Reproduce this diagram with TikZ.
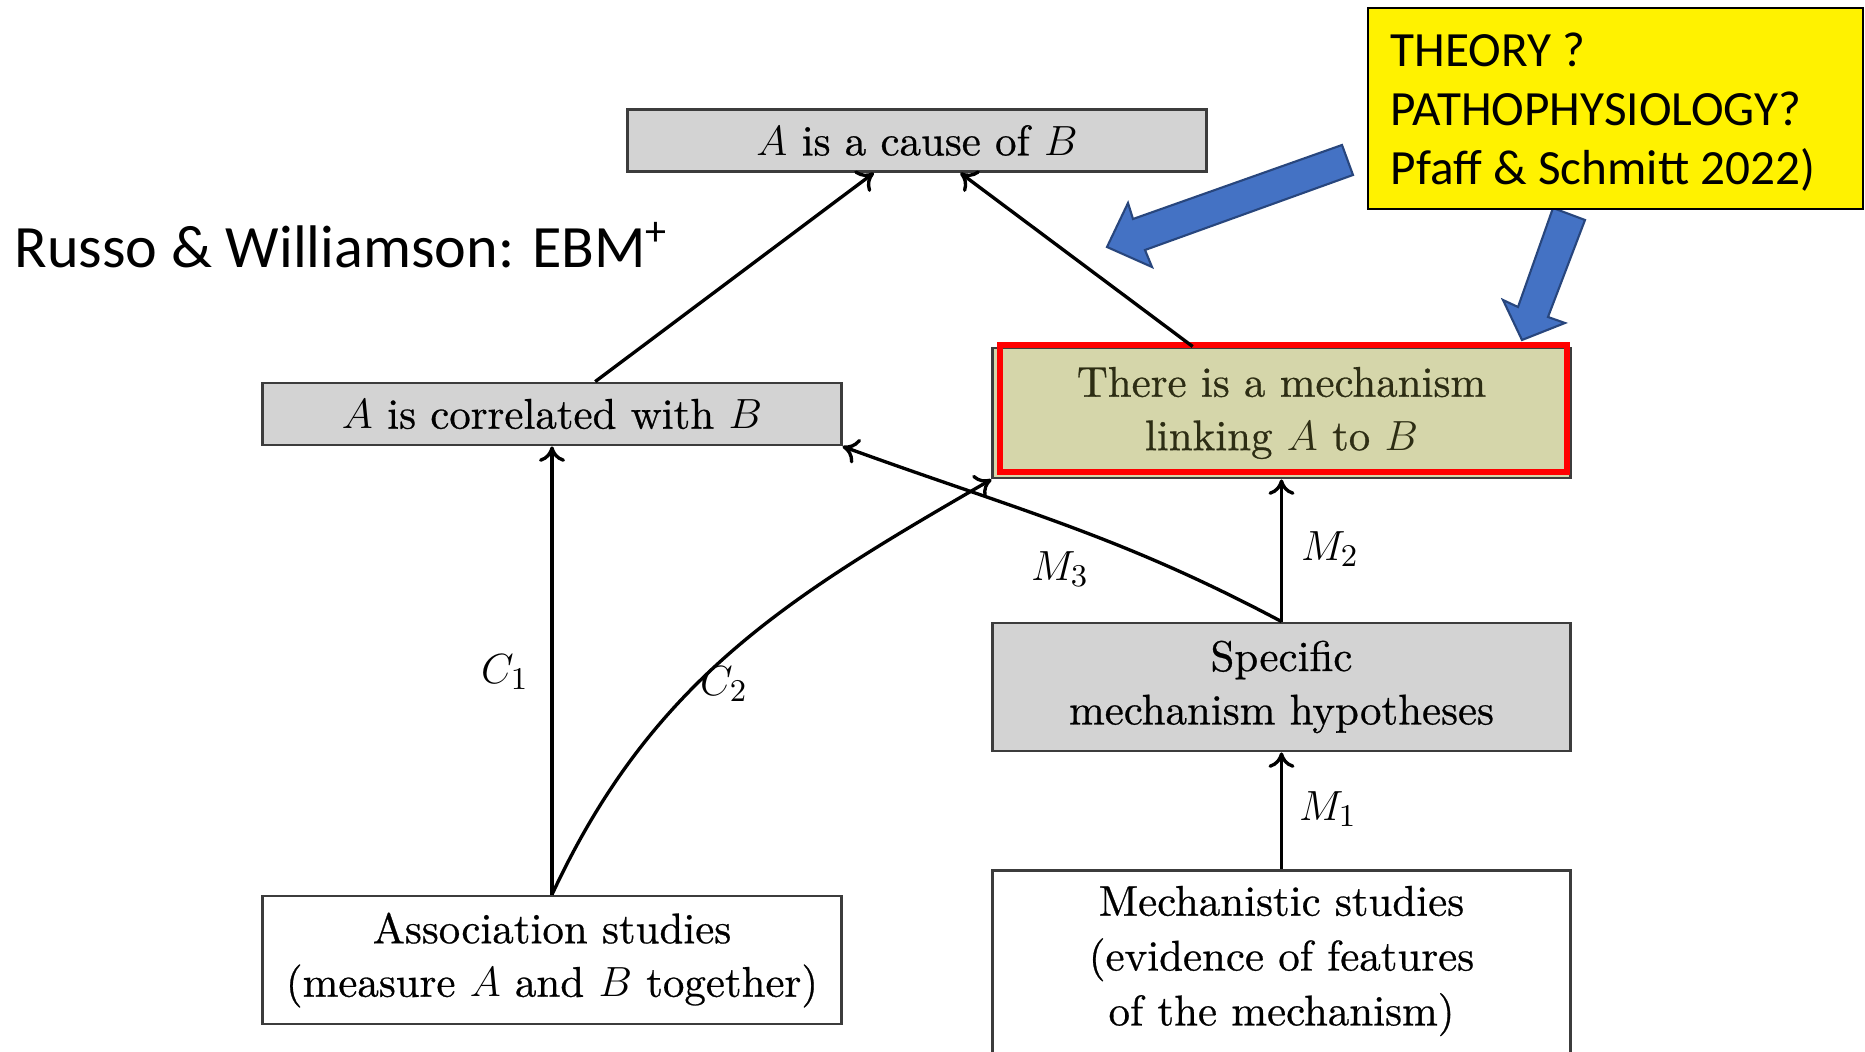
\documentclass[tikz,border=0pt]{standalone}
\usepackage{fontspec}
\setmainfont{lmroman10-regular.otf}[ItalicFont=lmroman10-italic.otf, FakeBold=0.6]
\newfontfamily\calibri{Carlito}
\usetikzlibrary{arrows.meta}
\definecolor{boxgray}{RGB}{211,211,211}
\definecolor{khaki}{RGB}{213,214,170}
\definecolor{olivetext}{RGB}{45,45,20}
\definecolor{arrowblue}{RGB}{68,114,196}
\definecolor{arrowedge}{RGB}{40,70,125}
\definecolor{boxedge}{RGB}{60,60,60}
\begin{document}
\begin{tikzpicture}[x=0.01cm,y=-0.01cm,
  diag/.style={font=\fontsize{12.2}{15.2}\selectfont, align=center, draw=boxedge,
    line width=0.8pt, inner sep=0pt, minimum width=5.78cm},
  greybox/.style={diag, fill=boxgray},
  plainbox/.style={diag, fill=white},
  link/.style={line width=0.95pt, -{Computer Modern Rightarrow[length=4.4pt,width=7.4pt]}},
  lab/.style={font=\fontsize{12.4}{14}\selectfont, inner sep=0pt},
  bigarrow/.style={fill=arrowblue, draw=arrowedge, line width=0.6pt, line join=miter}
]
\clip (0,0) rectangle (1865,1052);
\fill[white] (0,0) rectangle (1865,1052);

% heading
\node[font=\calibri\fontsize{17.1}{20}\selectfont, anchor=base west, inner sep=0pt]
  (title) at (14,268) {Russo \& Williamson: EBM\textsuperscript{+}};

% claims
\node[greybox, minimum height=0.62cm] (cause) at (917,140.5) {$A$ is a cause of $B$};
\node[greybox, minimum height=0.62cm] (corr) at (552,414) {$A$ is correlated with $B$};
\node[diag, fill=khaki, text=olivetext, minimum width=5.77cm, minimum height=1.30cm]
  (mech) at (1281.5,413) {There is a mechanism\\linking $A$ to $B$};
\node[draw=red, line width=1.7pt, minimum width=5.673cm, minimum height=1.26cm, inner sep=0pt]
  (focus) at (1283.4,408.5) {};

% evidence
\node[greybox, minimum width=5.77cm, minimum height=1.28cm] (spec) at (1281.5,687)
  {Specific\\mechanism hypotheses};
\node[plainbox, minimum width=5.77cm, minimum height=2.3cm, anchor=north] (mstud) at (1281.5,869) {};
\node[font=\fontsize{12.2}{15.6}\selectfont, align=center, inner sep=0pt] (mstudtext) at (1281.5,961)
  {Mechanistic studies\\(evidence of features\\of the mechanism)};
\node[plainbox, minimum height=1.28cm] (assoc) at (552,960)
  {Association studies\\(measure $A$ and $B$ together)};

% inferences
\draw[link] (corr) -- (cause);
\draw[link] (mech) -- (cause);
\draw[link] (assoc) -- (corr);
\draw[link] (assoc.north) to[out=65,in=-150] (mech.south west);
\draw[link] (spec) -- (mech);
\draw[link] (spec.north) to[out=152,in=-20] (corr.south east);
\draw[link] (mstud) -- (spec);

\node[lab] (c1) at (505,672) {$C_1$};
\node[lab] (c2) at (724,684) {$C_2$};
\node[lab] (m3) at (1060,569) {$M_3$};
\node[lab] (m2) at (1330,549) {$M_2$};
\node[lab] (m1) at (1328,809) {$M_1$};

% callout
\draw[bigarrow] (1342,145) -- (1353,175) -- (1145,250) -- (1152,267) -- (1107,247)
  -- (1128,203) -- (1133,219) -- cycle;
\draw[bigarrow] (1553,208) -- (1585,220) -- (1548,317) -- (1565,323) -- (1522,340)
  -- (1503,300) -- (1518,307) -- cycle;
\node[draw=black, line width=0.6pt, fill=yellow, anchor=north west, inner sep=0pt,
  minimum width=4.95cm, minimum height=2.01cm] (theory) at (1367,7) {};
\node[font=\calibri\fontsize{14}{16.8}\selectfont, align=left, anchor=north west, inner sep=0pt]
  (theorytext) at (1390,32) {THEORY ?\\PATHOPHYSIOLOGY?\\Pfaff \& Schmitt 2022)};
\end{tikzpicture}
\end{document}
